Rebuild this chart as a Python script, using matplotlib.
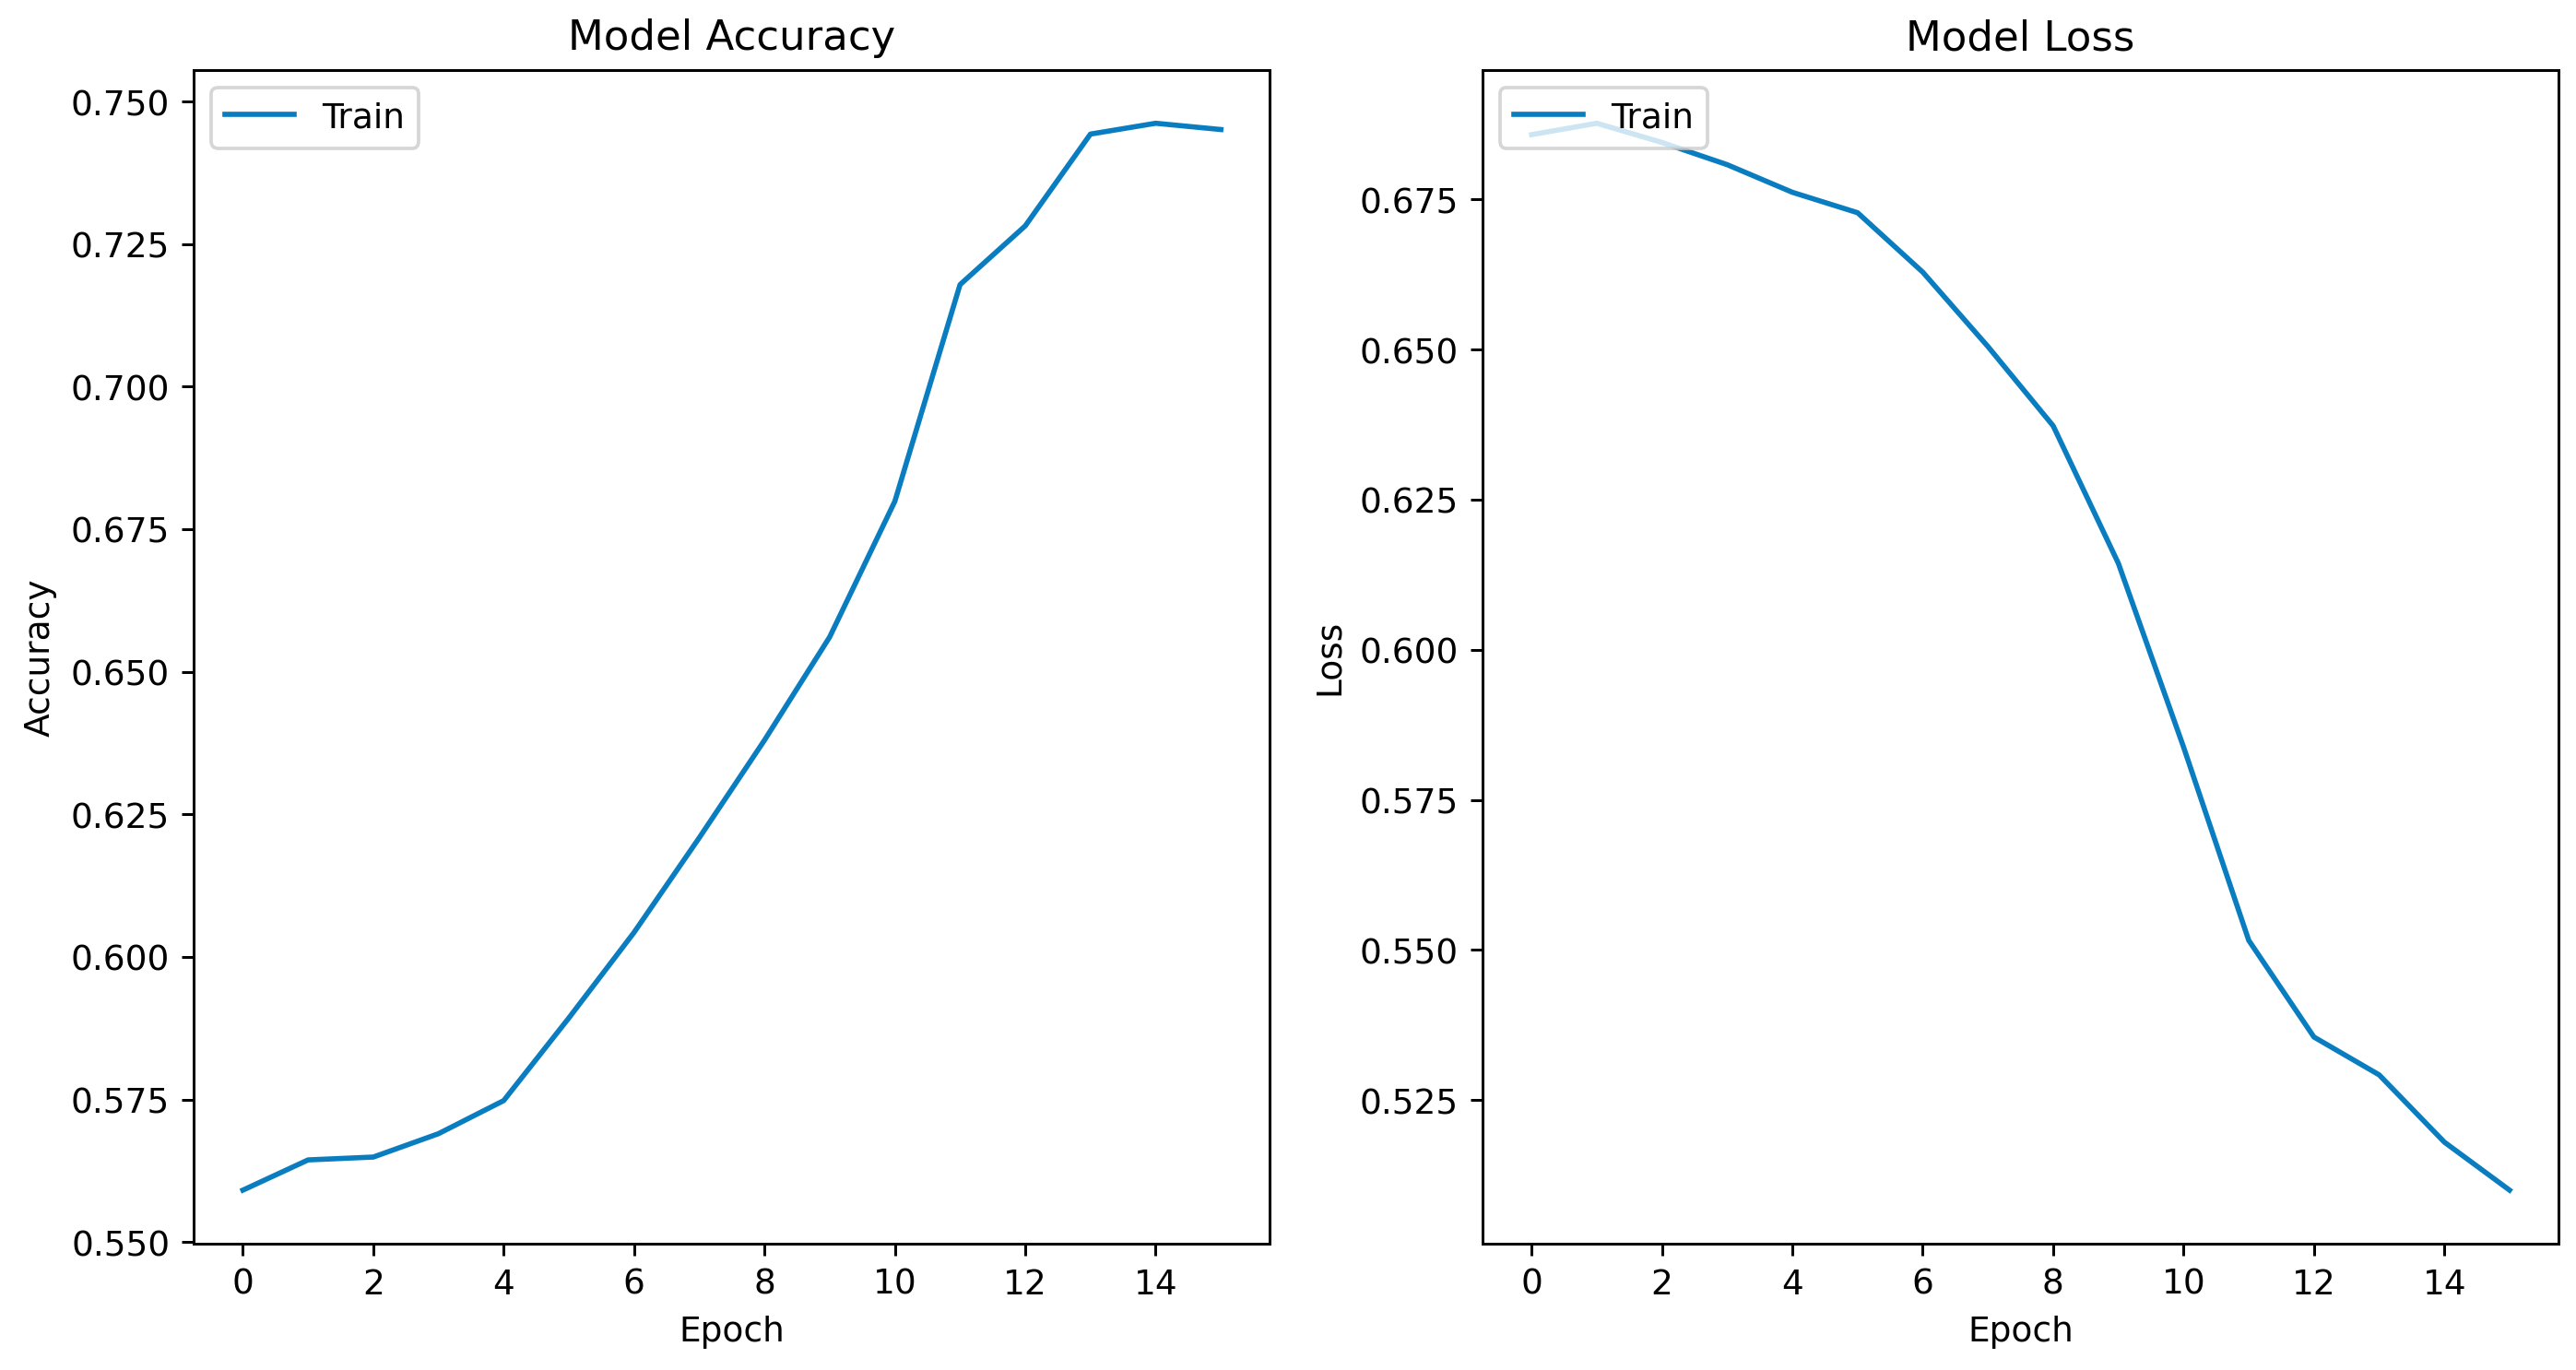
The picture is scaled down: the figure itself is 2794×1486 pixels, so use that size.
import matplotlib

matplotlib.use('Agg')

import matplotlib.pyplot as plt

# Training history
epochs = list(range(16))
accuracy = [0.5591, 0.5644, 0.5649, 0.5690, 0.5748, 0.5893, 0.6043, 0.6209,
            0.6380, 0.6561, 0.6799, 0.7179, 0.7282, 0.7443, 0.7462, 0.7451]
loss = [0.6858, 0.6877, 0.6845, 0.6808, 0.6762, 0.6728, 0.6629, 0.6505,
        0.6373, 0.6144, 0.5838, 0.5516, 0.5355, 0.5292, 0.5180, 0.5100]

line_color = '#0a7dc0'

# Reference looks like a default matplotlib figure rendered at a higher scale
fig, (ax_acc, ax_loss) = plt.subplots(1, 2, figsize=(10.35, 5.507), dpi=270)
fig.subplots_adjust(left=0.0753, right=0.993, bottom=0.0923, top=0.9484, wspace=0.198)

ax_acc.plot(epochs, accuracy, color=line_color, label='Train')
ax_acc.set_title('Model Accuracy')
ax_acc.set_xlabel('Epoch')
ax_acc.set_ylabel('Accuracy')
ax_acc.legend(loc='upper left')

ax_loss.plot(epochs, loss, color=line_color, label='Train')
ax_loss.set_title('Model Loss')
ax_loss.set_xlabel('Epoch')
ax_loss.set_ylabel('Loss')
ax_loss.legend(loc='upper left')

for ax in (ax_acc, ax_loss):
    ax.set_xticks(range(0, 16, 2))

plt.savefig('out.png')
